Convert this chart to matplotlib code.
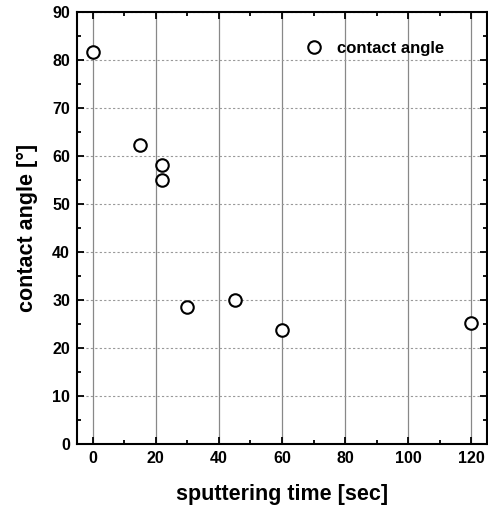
import matplotlib

matplotlib.use("Agg")

from matplotlib import pyplot as plt
from matplotlib.ticker import MultipleLocator

plt.rcParams["font.family"] = ["Liberation Sans", "DejaVu Sans"]
plt.rcParams["font.weight"] = "bold"

sputtering_time = [0, 15, 22, 22, 30, 45, 60, 120]
contact_angle = [81.6, 62.4, 58.2, 55.0, 28.5, 30.1, 23.8, 25.3]

fig = plt.figure(figsize=(4.89, 5.08), dpi=100)
ax = fig.add_axes([0.1575, 0.126, 0.8385, 0.85])

ax.plot(sputtering_time, contact_angle, linestyle="none", marker="o",
        markersize=9, markerfacecolor="white", markeredgecolor="black",
        markeredgewidth=1.5, label="contact angle", zorder=3)

ax.set_xlim(-5, 125)
ax.set_ylim(0, 90)
ax.xaxis.set_major_locator(MultipleLocator(20))
ax.xaxis.set_minor_locator(MultipleLocator(10))
ax.yaxis.set_major_locator(MultipleLocator(10))
ax.yaxis.set_minor_locator(MultipleLocator(5))

ax.grid(axis="x", which="major", color="#888888", linestyle="-", linewidth=0.9)
ax.grid(axis="y", which="major", color="#999999", linestyle=(0, (2, 2)), linewidth=0.8)

ax.tick_params(which="both", direction="in", top=True, right=True, width=1.3)
ax.tick_params(which="major", length=5, labelsize=11.5, pad=5)
ax.tick_params(which="minor", length=3)
for spine in ax.spines.values():
    spine.set_linewidth(1.5)
for label in ax.get_xticklabels() + ax.get_yticklabels():
    label.set_fontweight("bold")

ax.set_xlabel("sputtering time [sec]", fontsize=15.5, fontweight="bold", labelpad=13)
ax.set_ylabel("contact angle [°]", fontsize=15.5, fontweight="bold", labelpad=10)

ax.legend(loc="center left", bbox_to_anchor=(0.50, 0.917), frameon=False,
          handletextpad=0.4, prop={"weight": "bold", "size": 12})

fig.savefig("out.png")
